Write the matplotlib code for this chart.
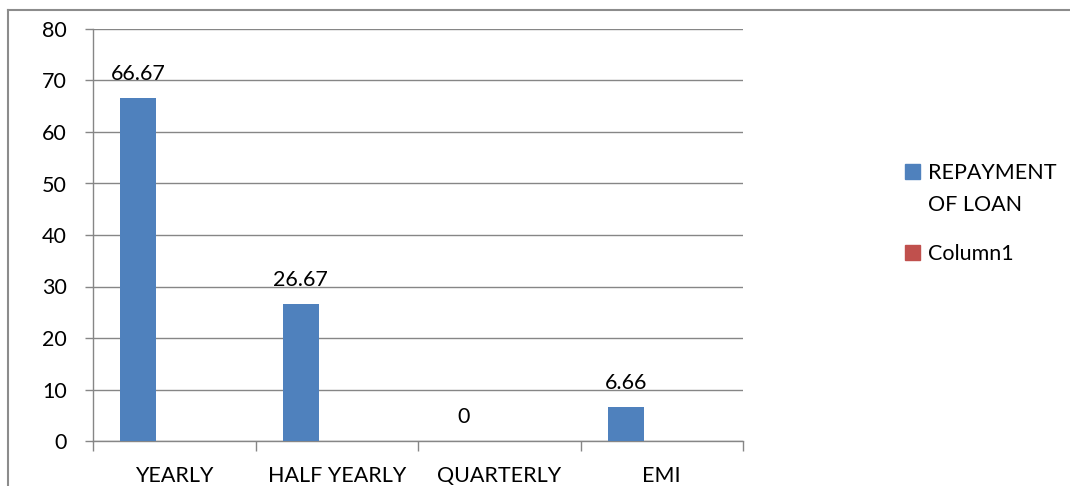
import matplotlib.pyplot as plt
from matplotlib.lines import Line2D
from matplotlib.patches import Rectangle
import numpy as np

categories = ["YEARLY", "HALF YEARLY", "QUARTERLY", "EMI"]
repayment = [66.67, 26.67, 0, 6.66]
column1 = [0, 0, 0, 0]
yticks = [0, 10, 20, 30, 40, 50, 60, 70, 80]
series_names = ["REPAYMENT\nOF LOAN", "Column1"]
series_colors = ["#4F81BD", "#C0504D"]

plt.rcParams['font.family'] = ['Lato', 'DejaVu Sans']
fs = 15.5
W, H = 1070, 486

fig = plt.figure(figsize=(W/100, H/100), dpi=100)
ax = fig.add_axes([93/W, 45/H, 650/W, 412/H])

x = np.arange(len(categories))
w = 36/162.5
gray = "#868686"

ax.bar(x - w, repayment, w, color=series_colors[0], zorder=3)
ax.bar(x, column1, w, color=series_colors[1], zorder=3)

for xi, v in zip(x, repayment):
    ax.annotate(f"{v:g}", (xi - w, v), xytext=(0, 10), textcoords="offset points",
                ha="center", va="bottom", fontsize=fs)

ax.set_xlim(-0.5, len(categories) - 0.5)
ax.set_ylim(0, 80)
ax.set_yticks(yticks)
ax.yaxis.grid(True, color=gray, lw=1)
ax.set_axisbelow(True)

ax.set_xticks(x)
ax.set_xticklabels(categories, fontsize=fs)
ax.set_xticks(np.arange(len(categories) + 1) - 0.5, minor=True)
ax.tick_params(axis="x", which="major", length=0, pad=18)
ax.tick_params(axis="x", which="minor", length=7, color=gray, width=1)
ax.tick_params(axis="y", length=6, color=gray, width=1, pad=13, labelsize=fs)

for s in ["top", "right"]:
    ax.spines[s].set_visible(False)
for s in ["left", "bottom"]:
    ax.spines[s].set_color(gray)
    ax.spines[s].set_linewidth(1)

# legend: square lined up with the first text line of each entry
for name, col, y0 in zip(series_names, series_colors, [171, 252]):
    fig.add_artist(Rectangle((905/W, 1 - (y0 + 7.5)/H), 15/W, 15/H,
                             transform=fig.transFigure, color=col))
    fig.text(928/W, 1 - (y0 - 8)/H, name, fontsize=fs, ha="left", va="top",
             linespacing=1.75)

# outer chart border (left and top edges only, the rest runs off the image)
top = 1 - 10/H
left = 8/W
fig.add_artist(Line2D([left, left], [-0.1, top], transform=fig.transFigure, color="#8c8c8c", lw=1.5))
fig.add_artist(Line2D([left, 1.1], [top, top], transform=fig.transFigure, color="#8c8c8c", lw=1.5))

fig.savefig("out.png", dpi=100)
